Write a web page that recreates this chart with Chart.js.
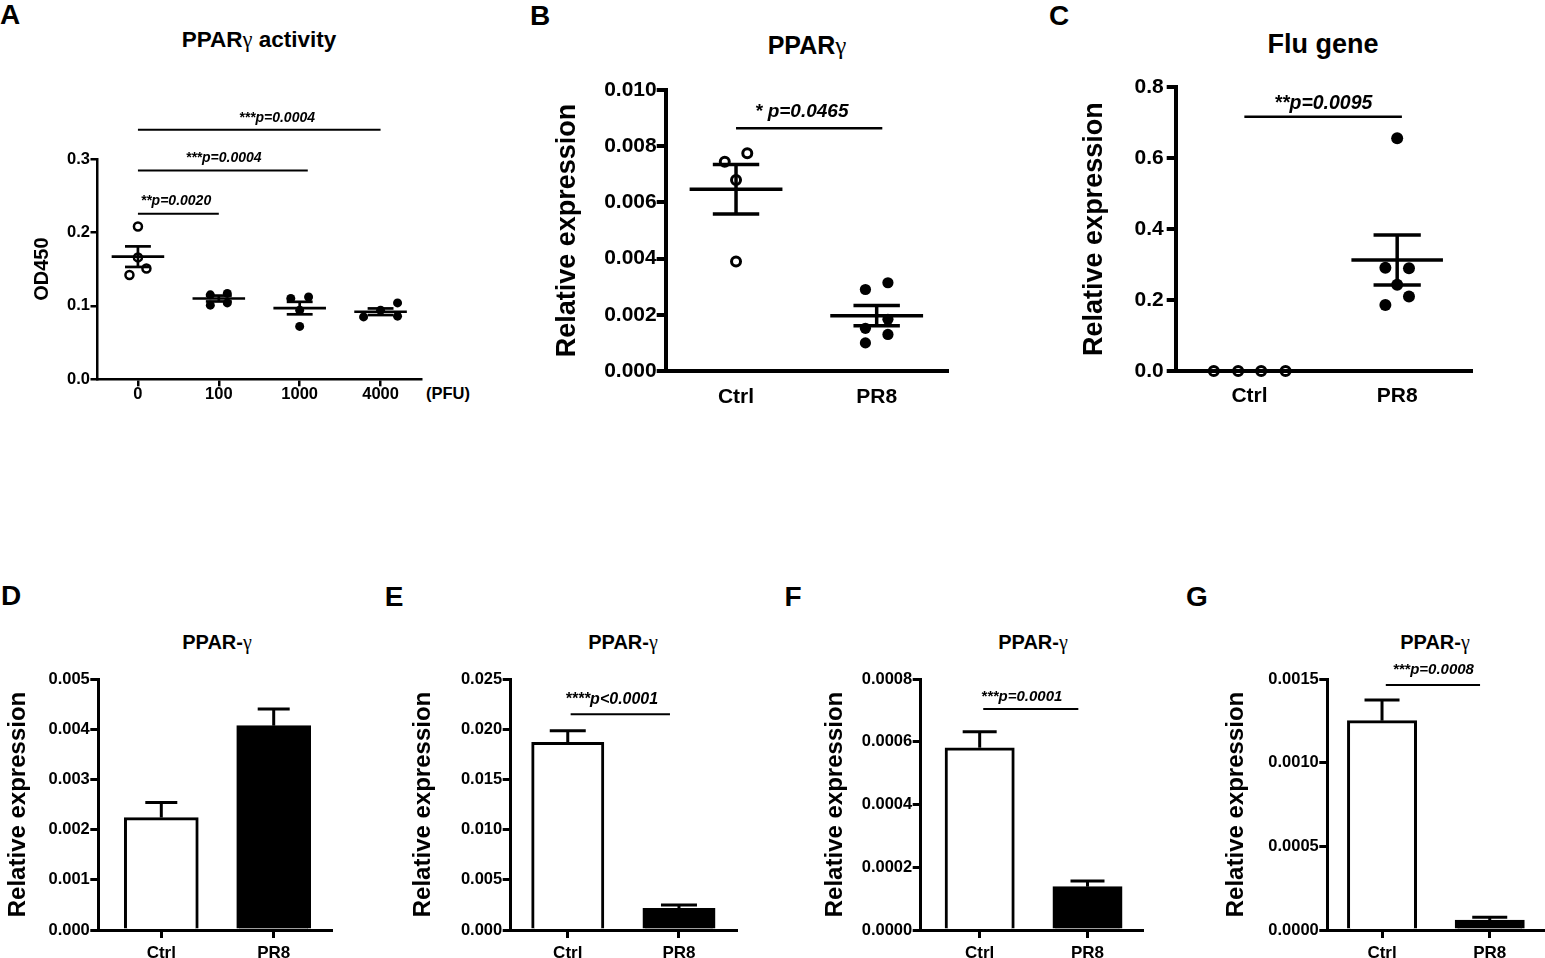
<!DOCTYPE html>
<html><head><meta charset="utf-8"><title>PPARγ figure</title>
<script src="https://cdn.jsdelivr.net/npm/chart.js@4.4.1/dist/chart.umd.min.js"></script>
<style>
html,body{margin:0;padding:0;background:#fff;}
body{width:1545px;height:958px;position:relative;overflow:hidden;font-family:'Liberation Sans',Arial,sans-serif;color:#000;}
canvas{position:absolute;}
.t{position:absolute;font-weight:bold;line-height:1;white-space:nowrap;transform:translate(-50%,-50%);}
.g{font-family:'Liberation Serif','DejaVu Serif',serif;font-weight:normal;}
</style></head><body>
<div class="t" style="left:10px;top:14.5px;font-size:28px">A</div>
<div class="t" style="left:540px;top:15.5px;font-size:28px">B</div>
<div class="t" style="left:1059px;top:15.5px;font-size:28px">C</div>
<div class="t" style="left:11px;top:596px;font-size:28px">D</div>
<div class="t" style="left:394px;top:597px;font-size:28px">E</div>
<div class="t" style="left:793px;top:597px;font-size:28px">F</div>
<div class="t" style="left:1197px;top:597px;font-size:28px">G</div>

<div class="t" style="left:259px;top:39.5px;font-size:22.5px">PPAR<span class="g">γ</span> activity</div>
<div class="t" style="left:807px;top:45px;font-size:25px">PPAR<span class="g">γ</span></div>
<div class="t" style="left:1323px;top:43.5px;font-size:27px">Flu gene</div>
<div class="t" style="left:217px;top:642px;font-size:20px">PPAR-<span class="g">γ</span></div>
<div class="t" style="left:623px;top:642px;font-size:20px">PPAR-<span class="g">γ</span></div>
<div class="t" style="left:1033px;top:642px;font-size:20px">PPAR-<span class="g">γ</span></div>
<div class="t" style="left:1435px;top:642px;font-size:20px">PPAR-<span class="g">γ</span></div>
<div class="t" style="left:448px;top:393px;font-size:16.5px">(PFU)</div>

<canvas id="cA" width="520" height="360" style="left:0px;top:60px"></canvas>
<canvas id="cB" width="500" height="360" style="left:520px;top:60px"></canvas>
<canvas id="cC" width="505" height="360" style="left:1040px;top:60px"></canvas>
<canvas id="cD" width="385" height="308" style="left:0px;top:650px"></canvas>
<canvas id="cE" width="390" height="308" style="left:385px;top:650px"></canvas>
<canvas id="cF" width="390" height="308" style="left:775px;top:650px"></canvas>
<canvas id="cG" width="380" height="308" style="left:1165px;top:650px"></canvas>

<script>
// ---------------- DATA ----------------
// Panel A: PPARγ activity (OD450)
const aCategories = ['0', '100', '1000', '4000'];
const aValues = [
  [0.208, 0.166, 0.142, 0.151],
  [0.115, 0.117, 0.101, 0.104],
  [0.110, 0.112, 0.094, 0.072],
  [0.085, 0.104, 0.086, 0.094]
];
const aJitter = [
  [0, 0, -0.105, 0.105],
  [-0.105, 0.105, -0.105, 0.105],
  [-0.11, 0.11, 0, 0],
  [-0.21, 0.21, 0.21, 0]
];
const aMean = [0.167, 0.110, 0.097, 0.092];
const aSem = [0.014, 0.004, 0.0085, 0.0045];
const aTickValues = [0, 0.1, 0.2, 0.3];
const aTickLabels = ['0.0', '0.1', '0.2', '0.3'];
const aSigFrom = [0, 0, 0];
const aSigTo = [1, 2.1, 3];
const aSigLevel = [0.2256, 0.2842, 0.3397];
const aSigTextX = [0.47, 1.06, 1.72];
const aSigText = ['**p=0.0020', '***p=0.0004', '***p=0.0004'];

// Panel B: PPARγ relative expression
const bCategories = ['Ctrl', 'PR8'];
const bCtrl = [0.00745, 0.00775, 0.0068, 0.0039];
const bCtrlJitter = [-0.08, 0.08, 0, 0];
const bPR8 = [0.0029, 0.00314, 0.00184, 0.00152, 0.0013, 0.0010];
const bPR8Jitter = [-0.08, 0.08, 0.08, -0.08, 0.08, -0.08];
const bMean = [0.00647, 0.00197];
const bSem = [0.00088, 0.00036];
const bTickValues = [0, 0.002, 0.004, 0.006, 0.008, 0.010];
const bTickLabels = ['0.000', '0.002', '0.004', '0.006', '0.008', '0.010'];
const bSigFrom = [0];
const bSigTo = [1.04];
const bSigLevel = [0.00864];
const bSigTextX = [0.467];
const bSigText = ['* p=0.0465'];

// Panel C: Flu gene
const cCategories = ['Ctrl', 'PR8'];
const cCtrl = [0, 0, 0, 0];
const cCtrlJitter = [-0.242, -0.077, 0.079, 0.244];
const cPR8 = [0.656, 0.291, 0.290, 0.243, 0.210, 0.186];
const cPR8Jitter = [0, -0.08, 0.08, 0, 0.08, -0.08];
const cMean = [0, 0.313];
const cSem = [0, 0.0705];
const cTickValues = [0, 0.2, 0.4, 0.6, 0.8];
const cTickLabels = ['0.0', '0.2', '0.4', '0.6', '0.8'];
const cSigFrom = [-0.035];
const cSigTo = [1.032];
const cSigLevel = [0.717];
const cSigTextX = [0.5];
const cSigText = ['**p=0.0095'];

// Panels D-G: PPAR-γ bars
const barCategories = ['Ctrl', 'PR8'];
const barPositions = [0, 1];
const dMean = [0.00224, 0.00407];
const dSem = [0.0003, 0.00033];
const dTickValues = [0, 0.001, 0.002, 0.003, 0.004, 0.005];
const dTickLabels = ['0.000', '0.001', '0.002', '0.003', '0.004', '0.005'];

const eMean = [0.0187, 0.00216];
const eSem = [0.00115, 0.00033];
const eTickValues = [0, 0.005, 0.010, 0.015, 0.020, 0.025];
const eTickLabels = ['0.000', '0.005', '0.010', '0.015', '0.020', '0.025'];
const eSigFrom = [0.026], eSigTo = [0.919], eSigLevel = [0.02148], eSigTextX = [0.395];
const eSigText = ['****p<0.0001'];

const fMean = [0.000581, 0.000138];
const fSem = [0.000051, 0.000018];
const fTickValues = [0, 0.0002, 0.0004, 0.0006, 0.0008];
const fTickLabels = ['0.0000', '0.0002', '0.0004', '0.0006', '0.0008'];
const fSigFrom = [0.033], fSigTo = [0.915], fSigLevel = [0.000704], fSigTextX = [0.39];
const fSigText = ['***p=0.0001'];

const gMean = [0.001251, 0.0000598];
const gSem = [0.000124, 0.000016];
const gTickValues = [0, 0.0005, 0.0010, 0.0015];
const gTickLabels = ['0.0000', '0.0005', '0.0010', '0.0015'];
const gSigFrom = [0.035], gSigTo = [0.91], gSigLevel = [0.001464], gSigTextX = [0.476];
const gSigText = ['***p=0.0008'];

// ---------------- HELPERS ----------------
const FONT = "'Liberation Sans', Arial, sans-serif";
Chart.defaults.font.family = FONT;
Chart.defaults.color = '#000';

function yAxis(p) {
  return {
    type: 'linear', min: p.min, max: p.max,
    afterFit: s => { s.width = p.width; },
    afterBuildTicks: s => { s.ticks = p.tickValues.map(v => ({ value: v })); },
    ticks: { callback: (v, i) => p.tickLabels[i], font: { size: p.tickSize, weight: 'bold', lineHeight: 1 },
      padding: p.tickPad, color: '#000', autoSkip: false },
    grid: { display: true, drawOnChartArea: false, drawTicks: true, tickLength: p.tickLen, color: '#000', lineWidth: p.lw },
    border: { display: true, color: '#000', width: p.lw },
    title: { display: !!p.title, text: p.title, color: '#000', font: { size: p.titleSize, weight: 'bold', lineHeight: 1 },
      padding: { top: p.titlePad, bottom: 0 } }
  };
}
function xAxis(p) {
  return {
    type: 'linear', min: p.min, max: p.max, offset: false,
    afterFit: s => { s.height = p.height; },
    afterBuildTicks: s => { s.ticks = p.positions.map(v => ({ value: v })); },
    ticks: { callback: (v, i) => p.labels[i], font: { size: p.tickSize, weight: 'bold', lineHeight: 1 },
      padding: p.tickPad, maxRotation: 0, minRotation: 0, autoSkip: false, color: '#000' },
    grid: { display: p.tickLen > 0, offset: false, drawOnChartArea: false, drawTicks: p.tickLen > 0,
      tickLength: p.tickLen, color: '#000', lineWidth: p.lw },
    border: { display: true, color: '#000', width: p.lw }
  };
}
function seg(ctx, x1, y1, x2, y2) { ctx.beginPath(); ctx.moveTo(x1, y1); ctx.lineTo(x2, y2); ctx.stroke(); }

function meanSemPlugin(means, sems, st) {
  return { id: 'meanSem', afterDatasetsDraw(chart) {
    const { ctx, scales: { x, y } } = chart;
    ctx.save(); ctx.strokeStyle = '#000'; ctx.lineWidth = st.lw; ctx.lineCap = 'butt';
    means.forEach((m, i) => {
      const cx = x.getPixelForValue(i);
      const mw = x.getPixelForValue(i + st.meanHalf) - cx;
      const cw = x.getPixelForValue(i + st.capHalf) - cx;
      const yM = y.getPixelForValue(m), yU = y.getPixelForValue(m + sems[i]), yL = y.getPixelForValue(m - sems[i]);
      seg(ctx, cx - mw, yM, cx + mw, yM);
      if (sems[i] > 0) {
        seg(ctx, cx, yU, cx, yL);
        seg(ctx, cx - cw, yU, cx + cw, yU);
        seg(ctx, cx - cw, yL, cx + cw, yL);
      }
    });
    ctx.restore();
  } };
}
function errPlugin(means, sems, st) {
  return { id: 'errBars', afterDatasetsDraw(chart) {
    const { ctx, scales: { x, y } } = chart;
    ctx.save(); ctx.strokeStyle = '#000'; ctx.lineWidth = st.lw;
    means.forEach((m, i) => {
      const cx = x.getPixelForValue(barPositions[i]);
      const y1 = y.getPixelForValue(m), y2 = y.getPixelForValue(m + sems[i]);
      seg(ctx, cx, y1, cx, y2);
      seg(ctx, cx - st.cap, y2, cx + st.cap, y2);
    });
    ctx.restore();
  } };
}
function sigPlugin(from, to, level, textX, text, st) {
  return { id: 'sig', afterDraw(chart) {
    const { ctx, scales: { x, y } } = chart;
    ctx.save(); ctx.strokeStyle = '#000'; ctx.fillStyle = '#000'; ctx.lineWidth = st.lw;
    ctx.font = `italic bold ${st.size}px ${FONT}`; ctx.textAlign = 'center'; ctx.textBaseline = 'middle';
    from.forEach((f, i) => {
      const yy = y.getPixelForValue(level[i]);
      seg(ctx, x.getPixelForValue(f), yy, x.getPixelForValue(to[i]), yy);
      ctx.fillText(text[i], x.getPixelForValue(textX[i]), yy - st.offset);
    });
    ctx.restore();
  } };
}
function pts(values, jitter, gi) { return values.map((v, j) => ({ x: gi + jitter[j], y: v })); }
function openDs(data, r, bw) {
  return { data, pointStyle: 'circle', pointRadius: r, pointBorderWidth: bw, borderColor: '#000',
    backgroundColor: 'rgba(0,0,0,0)', pointBackgroundColor: 'rgba(0,0,0,0)', pointBorderColor: '#000', clip: false };
}
function filledDs(data, r) {
  return { data, pointStyle: 'circle', pointRadius: r, pointBorderWidth: 0, borderColor: '#000',
    backgroundColor: '#000', pointBackgroundColor: '#000', pointBorderColor: '#000', clip: false };
}
const baseOpts = { responsive: false, animation: false, events: [],
  plugins: { legend: { display: false }, tooltip: { enabled: false }, title: { display: false } } };

// ---------------- PANEL A ----------------
new Chart(document.getElementById('cA'), {
  type: 'scatter',
  data: { datasets: [
    openDs(pts(aValues[0], aJitter[0], 0), 4, 2.5),
    filledDs([].concat(pts(aValues[1], aJitter[1], 1), pts(aValues[2], aJitter[2], 2), pts(aValues[3], aJitter[3], 3)), 4.5)
  ] },
  options: Object.assign({}, baseOpts, {
    layout: { padding: { left: 0, top: 99, right: 99, bottom: 0 } },
    scales: {
      x: xAxis({ min: -0.5, max: 3.5, height: 40.7, positions: [0, 1, 2, 3], labels: aCategories, tickSize: 16.5, tickPad: 0, tickLen: 7, lw: 2.5 }),
      y: yAxis({ min: 0, max: 0.3, width: 97.5, tickValues: aTickValues, tickLabels: aTickLabels, tickSize: 16.5, tickPad: 0.5, tickLen: 7, lw: 2.5,
        title: 'OD450', titleSize: 20, titlePad: 32 })
    }
  }),
  plugins: [meanSemPlugin(aMean, aSem, { lw: 2.7, meanHalf: 0.325, capHalf: 0.16 }),
            sigPlugin(aSigFrom, aSigTo, aSigLevel, aSigTextX, aSigText, { lw: 2, size: 14, offset: 12 })]
});

// ---------------- PANEL B ----------------
new Chart(document.getElementById('cB'), {
  type: 'scatter',
  data: { datasets: [ openDs(pts(bCtrl, bCtrlJitter, 0), 4.5, 3), filledDs(pts(bPR8, bPR8Jitter, 1), 5.6) ] },
  options: Object.assign({}, baseOpts, {
    layout: { padding: { left: 0, top: 30, right: 73, bottom: 0 } },
    scales: {
      x: xAxis({ min: -0.5, max: 1.5, height: 49, positions: [0, 1], labels: bCategories, tickSize: 21, tickPad: 15.5, tickLen: 0, lw: 4 }),
      y: yAxis({ min: 0, max: 0.010, width: 145.7, tickValues: bTickValues, tickLabels: bTickLabels, tickSize: 21, tickPad: 0, tickLen: 9, lw: 4,
        title: 'Relative expression', titleSize: 27, titlePad: 34 })
    }
  }),
  plugins: [meanSemPlugin(bMean, bSem, { lw: 3.5, meanHalf: 0.33, capHalf: 0.165 }),
            sigPlugin(bSigFrom, bSigTo, bSigLevel, bSigTextX, bSigText, { lw: 2.5, size: 19, offset: 16 })]
});

// ---------------- PANEL C ----------------
new Chart(document.getElementById('cC'), {
  type: 'scatter',
  data: { datasets: [ openDs(pts(cCtrl, cCtrlJitter, 0), 4.6, 3), filledDs(pts(cPR8, cPR8Jitter, 1), 6) ] },
  options: Object.assign({}, baseOpts, {
    layout: { padding: { left: 0, top: 27.3, right: 74, bottom: 0 } },
    scales: {
      x: xAxis({ min: -0.5, max: 1.5, height: 49, positions: [0, 1], labels: cCategories, tickSize: 21, tickPad: 15, tickLen: 0, lw: 4 }),
      y: yAxis({ min: 0, max: 0.8, width: 135.7, tickValues: cTickValues, tickLabels: cTickLabels, tickSize: 21, tickPad: 3, tickLen: 9, lw: 4,
        title: 'Relative expression', titleSize: 27, titlePad: 41.5 })
    }
  }),
  plugins: [meanSemPlugin(cMean, cSem, { lw: 3.5, meanHalf: 0.31, capHalf: 0.16 }),
            sigPlugin(cSigFrom, cSigTo, cSigLevel, cSigTextX, cSigText, { lw: 2.5, size: 19.5, offset: 13.5 })]
});

// ---------------- PANELS D-G ----------------
function barChart(id, p) {
  const plugins = [errPlugin(p.mean, p.sem, { lw: 3, cap: p.cap })];
  if (p.sig) plugins.push(sigPlugin(p.sig.from, p.sig.to, p.sig.level, p.sig.textX, p.sig.text, { lw: 2, size: p.sig.size, offset: p.sig.offset }));
  new Chart(document.getElementById(id), {
    type: 'bar',
    data: { datasets: [{
      data: p.mean.map((v, i) => ({ x: barPositions[i], y: v })),
      backgroundColor: ['#ffffff', '#000000'], borderColor: '#000', borderWidth: 3,
      barThickness: p.barWidth, borderSkipped: 'start'
    }] },
    options: Object.assign({}, baseOpts, {
      layout: { padding: { left: 0, top: 29, right: p.right, bottom: 0 } },
      scales: {
        x: xAxis({ min: p.xmin, max: p.xmax, height: 28, positions: barPositions, labels: barCategories, tickSize: 17, tickPad: 6.5, tickLen: 8, lw: 3 }),
        y: yAxis({ min: 0, max: p.ymax, width: p.yWidth, tickValues: p.tickValues, tickLabels: p.tickLabels, tickSize: 16.5, tickPad: 0.5, tickLen: 8, lw: 3,
          title: 'Relative expression', titleSize: 24, titlePad: p.titlePad })
      }
    }),
    plugins
  });
}
barChart('cD', { mean: dMean, sem: dSem, ymax: 0.005, tickValues: dTickValues, tickLabels: dTickLabels,
  xmin: -0.5605, xmax: 1.516, yWidth: 98.3, right: 53.3, titlePad: 6.3, barWidth: 74, cap: 16 });
barChart('cE', { mean: eMean, sem: eSem, ymax: 0.025, tickValues: eTickValues, tickLabels: eTickLabels,
  xmin: -0.513, xmax: 1.519, yWidth: 125.7, right: 38.3, titlePad: 26.3, barWidth: 72.3, cap: 18,
  sig: { from: eSigFrom, to: eSigTo, level: eSigLevel, textX: eSigTextX, text: eSigText, size: 16, offset: 15 } });
barChart('cF', { mean: fMean, sem: fSem, ymax: 0.0008, tickValues: fTickValues, tickLabels: fTickLabels,
  xmin: -0.547, xmax: 1.512, yWidth: 145.7, right: 22.3, titlePad: 48, barWidth: 69.3, cap: 17,
  sig: { from: fSigFrom, to: fSigTo, level: fSigLevel, textX: fSigTextX, text: fSigText, size: 15, offset: 12.5 } });
barChart('cG', { mean: gMean, sem: gSem, ymax: 0.0015, tickValues: gTickValues, tickLabels: gTickLabels,
  xmin: -0.508, xmax: 1.513, yWidth: 162.3, right: 0, titlePad: 59.7, barWidth: 69.3, cap: 17.5,
  sig: { from: gSigFrom, to: gSigTo, level: gSigLevel, textX: gSigTextX, text: gSigText, size: 15, offset: 15 } });
</script>
</body></html>
